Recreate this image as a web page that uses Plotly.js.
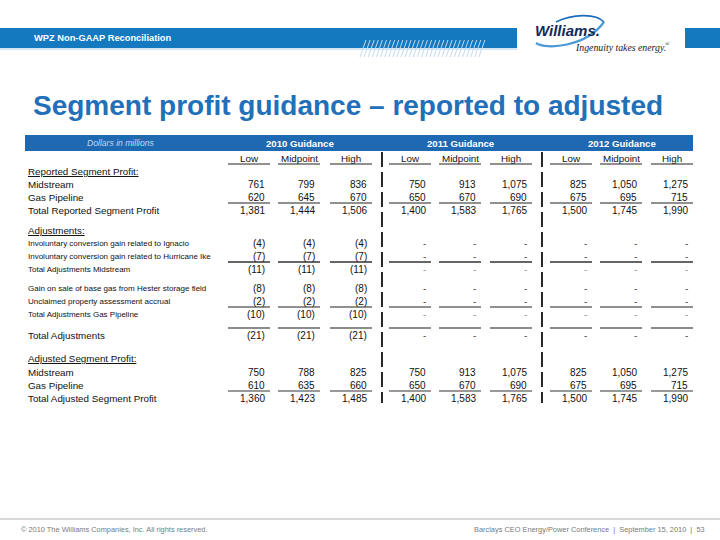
<!DOCTYPE html>
<html><head><meta charset="utf-8">
<script src="https://cdn.plot.ly/plotly-3.0.1.min.js"></script>
<style>html,body{margin:0;padding:0;background:#fff}</style>
</head><body><div id="chart" style="width:720px;height:540px"></div>
<script>
// ---------- DATA ----------
const pageHeader = 'WPZ Non-GAAP Reconciliation';
const chartTitle = 'Segment profit guidance – reported to adjusted';
const unitsLabel = 'Dollars in millions';
const yearLabels = ['2010 Guidance', '2011 Guidance', '2012 Guidance'];
const colLabels = ['Low', 'Midpoint', 'High'];
const rowLabels = [
  'Reported Segment Profit:', 'Midstream', 'Gas Pipeline', 'Total Reported Segment Profit',
  'Adjustments:', 'Involuntary conversion gain related to Ignacio',
  'Involuntary conversion gain related to Hurricane Ike', 'Total Adjustments Midstream',
  'Gain on sale of base gas from Hester storage field', 'Unclaimed property assessment accrual',
  'Total Adjustments Gas Pipeline', 'Total Adjustments',
  'Adjusted Segment Profit:', 'Midstream', 'Gas Pipeline', 'Total Adjusted Segment Profit'
];
const rowKind = ['head','main','main','main','head','detail','detail','detail','detail','detail','detail','main','head','main','main','main'];
const low2010  = [null, 761, 620, 1381, null, -4, -7, -11, -8, -2, -10, -21, null, 750, 610, 1360];
const mid2010  = [null, 799, 645, 1444, null, -4, -7, -11, -8, -2, -10, -21, null, 788, 635, 1423];
const high2010 = [null, 836, 670, 1506, null, -4, -7, -11, -8, -2, -10, -21, null, 825, 660, 1485];
const low2011  = [null, 750, 650, 1400, null, 0, 0, 0, 0, 0, 0, 0, null, 750, 650, 1400];
const mid2011  = [null, 913, 670, 1583, null, 0, 0, 0, 0, 0, 0, 0, null, 913, 670, 1583];
const high2011 = [null, 1075, 690, 1765, null, 0, 0, 0, 0, 0, 0, 0, null, 1075, 690, 1765];
const low2012  = [null, 825, 675, 1500, null, 0, 0, 0, 0, 0, 0, 0, null, 825, 675, 1500];
const mid2012  = [null, 1050, 695, 1745, null, 0, 0, 0, 0, 0, 0, 0, null, 1050, 695, 1745];
const high2012 = [null, 1275, 715, 1990, null, 0, 0, 0, 0, 0, 0, 0, null, 1275, 715, 1990];
const logoWord = 'Williams.';
const logoTag = 'Ingenuity takes energy.';
const footerLeft = '© 2010 The Williams Companies, Inc. All rights reserved.';
const footerRight = 'Barclays CEO Energy/Power Conference  |  September 15, 2010  |  53';

// ---------- LAYOUT CONSTANTS ----------
const columns = [low2010, mid2010, high2010, low2011, mid2011, high2011, low2012, mid2012, high2012];
const rowY = [171, 184, 197, 210, 230, 243, 256, 269, 288, 301, 314, 335, 358, 372, 385, 398];
const colRight = [266, 316, 368, 427, 477, 528, 588, 638, 689];
const headY = 158;
const FONT = 'Liberation Sans, Arial, sans-serif';

function fmt(v) {
  if (v === null) return '';
  if (v === 0) return '-';
  const s = Math.abs(v).toLocaleString('en-US');
  return v < 0 ? '(' + s + ')' : s;
}

const ann = [];
const shapes = [];
function txt(x, y, t, anchor, size, color, family) {
  ann.push({x: x, y: y, xref: 'x', yref: 'y', text: t, showarrow: false,
    xanchor: anchor, yanchor: 'middle', borderpad: 0,
    font: {family: family || FONT, size: size, color: color}});
}
function line(x0, y0, x1, y1, color, w, dash) {
  shapes.push({type: 'line', xref: 'x', yref: 'y', x0: x0, y0: y0, x1: x1, y1: y1,
    line: {color: color, width: w, dash: dash || 'solid'}});
}

// page header band
shapes.push({type: 'rect', xref: 'x', yref: 'y', x0: 0, x1: 517, y0: 28, y1: 48, fillcolor: '#1479bf', line: {width: 0}});
line(0, 49, 517, 49, '#a9cce9', 1);
shapes.push({type: 'rect', xref: 'x', yref: 'y', x0: 685, x1: 721, y0: 28, y1: 48, fillcolor: '#1479bf', line: {width: 0}});
for (let k = 0; k < 30; k++) {
  const x = 360 + k * 4.1;
  line(x, 57, x + 6, 40, '#c3daef', 1);
}
txt(33, 38, '<b>' + pageHeader + '</b>', 'left', 9.3, '#ffffff');

// logo
shapes.push({type: 'path', xref: 'x', yref: 'y', path: 'M 536 43 C 546 50, 586 47, 604 22', line: {color: '#4a9ad6', width: 2.2}});
shapes.push({type: 'path', xref: 'x', yref: 'y', path: 'M 556 22 C 572 14, 596 13, 604 22', line: {color: '#1a6fbd', width: 1.6}});
txt(567, 30, '<b><i>' + logoWord + '</i></b>', 'center', 15, '#14295a');
txt(620, 47, '<i>' + logoTag + '</i>', 'center', 9.8, '#1a1a1a', 'Liberation Serif, Times New Roman, serif');
txt(667, 44, '®', 'center', 6, '#1a1a1a', 'Liberation Serif, Times New Roman, serif');

// table header band
shapes.push({type: 'rect', xref: 'x', yref: 'y', x0: 25, x1: 693, y0: 135, y1: 151, fillcolor: '#1e69b2', line: {width: 0}});
txt(121, 143, '<i>' + unitsLabel + '</i>', 'center', 8.6, '#c6d8ef');
yearLabels.forEach((yl, g) => {
  const cx = (colRight[g * 3] - 38 + colRight[g * 3 + 2] + 4) / 2;
  txt(cx, 143, '<b>' + yl + '</b>', 'center', 9.6, '#ffffff');
});

// column labels and header underlines
colRight.forEach((r, i) => {
  txt(r - 17, headY, colLabels[i % 3], 'center', 9.8, '#111111');
  line(r - 38, 164, r + 4, 164, '#222222', 1.1);
});

// row labels
rowLabels.forEach((lab, j) => {
  const k = rowKind[j];
  if (k === 'head') txt(27, rowY[j], '<u>' + lab + '</u>', 'left', 9.8, '#111111');
  else if (k === 'detail') txt(27, rowY[j], lab, 'left', 8, '#111111');
  else txt(27, rowY[j], lab, 'left', 9.8, '#111111');
});

// values
columns.forEach((col, i) => {
  col.forEach((v, j) => {
    if (v === null) return;
    const gray = (v === 0) ? ((j === 7 || j === 10) ? '#9a9a9a' : '#555555') : '#111111';
    txt(colRight[i], rowY[j], fmt(v), 'right', 10, gray);
  });
});

// underlines
const ulines = [[203, '#222222', 1.1], [262, '#333333', 1.3], [307, '#222222', 1.1], [328, '#666666', 1.6], [391, '#777777', 1.6]];
ulines.forEach(u => colRight.forEach(r => line(r - 38, u[0], r + 4, u[0], u[1], u[2])));

// vertical separators
[382, 542].forEach(x => line(x, 152, x, 403, '#111111', 1.8, '15px,5px'));

// footer
line(0, 519, 720, 519, '#b3b3b3', 1);
txt(20, 529, footerLeft, 'left', 7.4, '#7a7a7a');
txt(706, 529, footerRight, 'right', 7.4, '#7a7a7a');

const layout = {
  width: 720, height: 540,
  margin: {l: 0, r: 0, t: 0, b: 0},
  paper_bgcolor: '#ffffff', plot_bgcolor: '#ffffff',
  showlegend: false,
  title: {text: '<b>' + chartTitle + '</b>', x: 33 / 720, xanchor: 'left', xref: 'container',
          y: 1 - 105 / 540, yanchor: 'middle', yref: 'container',
          font: {family: FONT, size: 28, color: '#2170b8'}},
  xaxis: {range: [0, 720], visible: false, fixedrange: true},
  yaxis: {range: [540, 0], visible: false, fixedrange: true},
  annotations: ann,
  shapes: shapes
};
Plotly.newPlot('chart', [], layout, {displayModeBar: false, staticPlot: true});
</script>
</body></html>
